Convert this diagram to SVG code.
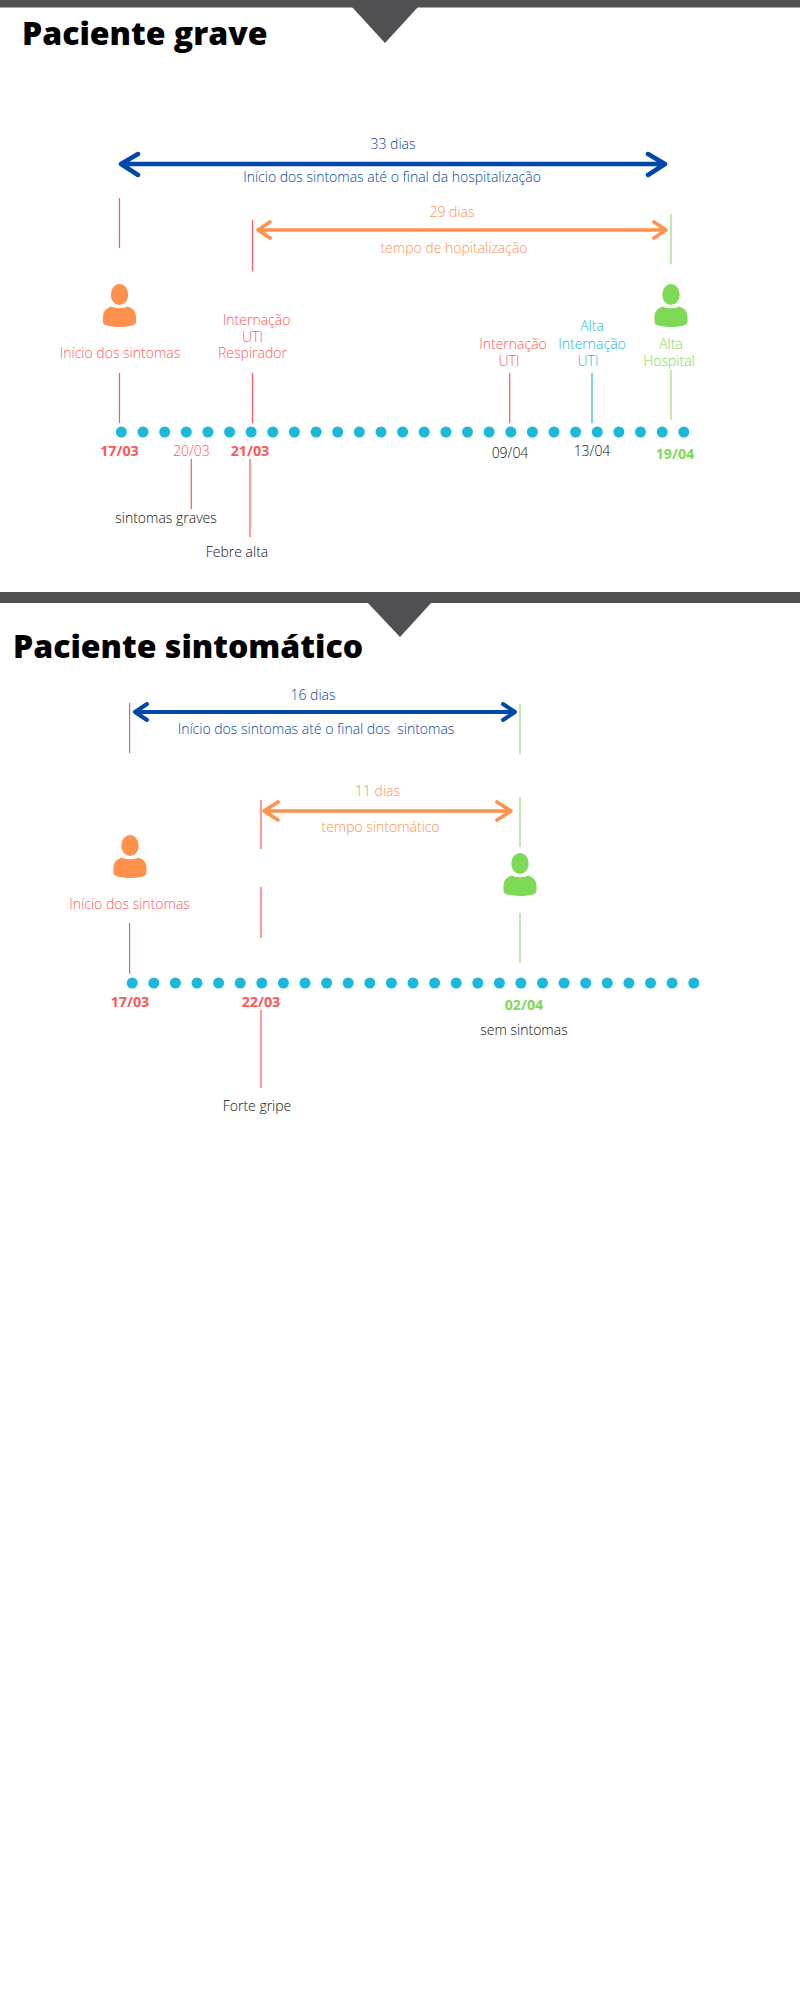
<svg xmlns="http://www.w3.org/2000/svg" xmlns:xlink="http://www.w3.org/1999/xlink" width="800" height="2000" viewBox="0 0 800 2000">
<style>
text{font-family:"Open Sans","Noto Sans","Liberation Sans",sans-serif;font-size:14px;font-weight:300;text-anchor:middle}
.title{font-size:32px;font-weight:800;text-anchor:start;fill:#000}
.bold{font-weight:700;font-size:14.3px}
.red{fill:#ff5757}.blue{fill:#0047ab}.orange{fill:#ff914d}.green{fill:#7ed957}.cyan{fill:#1cb8d9}.dark{fill:#111}
.r{stroke:#ff5757;stroke-width:1.2;fill:none}.g{stroke:#a9e58f;stroke-width:1.5;fill:none}.c{stroke:#4cc6e0;stroke-width:1.5;fill:none}
.ab{stroke:#0047ab;stroke-width:4.5;fill:none;stroke-linecap:round;stroke-linejoin:round}
.ao{stroke:#ff914d;stroke-width:3.6;fill:none;stroke-linecap:round;stroke-linejoin:round}
.bar{fill:#505052}.dot{fill:#1cb8d9}
</style>
<defs>
<g id="person"><ellipse cx="0" cy="10.5" rx="8.7" ry="10.5"/><path d="M-8 22.5C-13 24-16.5 27-16.5 33V38.5C-16.5 41.5-7 43 0 43S16.5 41.5 16.5 38.5V33C16.5 27 13 24 8 22.5C5 24.8-5 24.8-8 22.5Z"/></g>
<circle id="d" r="5.5"/>
</defs>
<rect width="800" height="2000" fill="#fff"/>
<g id="header-grave"><rect class="bar" x="0" y="0" width="800" height="7.5"/><path class="bar" d="M352 7H418L385 43Z"/><text class="title" x="22" y="45">Paciente grave</text></g>
<g id="connectors">
<path class="ab" d="M121 164H665M138 154L121 164L138 175M648 154L665 164L648 175"/>
<path class="ao" d="M258 230H666M270 222L258 230L270 238M654 222L666 230L654 238"/>
<path class="r" d="M119.5 198V248M252.5 220V271M119.5 373V423M252.5 373V423M509.7 373V423M191.3 459V509M250 459V537"/>
<path class="g" d="M671 214V264M671 370V420"/>
<path class="c" d="M592 373V423"/>
<path class="ab" style="stroke-width:4" d="M135 712H515M147 704L135 712L147 720M503 704L515 712L503 720"/>
<path class="ao" d="M264 811H511M278 802L264 811L278 820M497 802L511 811L497 820"/>
<path class="r" d="M129.6 703V753M261 800V849M129.6 923V974M261 887V938M261 1010V1088"/>
<path class="g" d="M520 704V754M520 797V847M520 913V963"/>
</g>
<g id="span-33"><text class="blue" x="393" y="149">33 dias</text><text class="blue" x="392" y="182">Início dos sintomas até o final da hospitalização</text></g>
<g id="span-29"><text class="orange" x="452" y="217">29 dias</text><text class="orange" x="454" y="253">tempo de hopitalização</text></g>
<g id="inicio-grave"><use href="#person" x="119.5" y="284" class="orange"/><text class="red" x="120" y="358">Início dos sintomas</text><text class="red bold" x="119.5" y="456">17/03</text></g>
<g id="internacao-respirador"><text class="red" x="256.6" y="325">Internação</text><text class="red" x="252.5" y="342">UTI</text><text class="red" x="252.5" y="358">Respirador</text><text class="red bold" x="250" y="456">21/03</text></g>
<g id="sintomas-graves"><text class="red" x="191.3" y="456">20/03</text><text class="dark" x="166" y="523">sintomas graves</text></g>
<g id="febre-alta"><text class="dark" x="237" y="557">Febre alta</text></g>
<g id="internacao-uti"><text class="red" x="513" y="349">Internação</text><text class="red" x="509" y="366">UTI</text><text class="dark" x="510" y="458">09/04</text></g>
<g id="alta-uti"><text class="cyan" x="592" y="331">Alta</text><text class="cyan" x="592" y="349">Internação</text><text class="cyan" x="588" y="366">UTI</text><text class="dark" x="592" y="456">13/04</text></g>
<g id="alta-hospital"><use href="#person" x="671" y="284" class="green"/><text class="green" x="671" y="349">Alta</text><text class="green" x="669" y="366">Hospital</text><text class="green bold" x="675" y="459">19/04</text></g>
<g id="timeline-grave" class="dot">
<use href="#d" x="121.4" y="432"/><use href="#d" x="143" y="432"/><use href="#d" x="164.7" y="432"/><use href="#d" x="186.3" y="432"/><use href="#d" x="207.9" y="432"/><use href="#d" x="229.6" y="432"/><use href="#d" x="251.2" y="432"/><use href="#d" x="272.8" y="432"/><use href="#d" x="294.4" y="432"/><use href="#d" x="316.1" y="432"/><use href="#d" x="337.7" y="432"/><use href="#d" x="359.3" y="432"/><use href="#d" x="381" y="432"/><use href="#d" x="402.6" y="432"/><use href="#d" x="424.2" y="432"/><use href="#d" x="445.9" y="432"/><use href="#d" x="467.5" y="432"/><use href="#d" x="489.1" y="432"/><use href="#d" x="510.8" y="432"/><use href="#d" x="532.4" y="432"/><use href="#d" x="554" y="432"/><use href="#d" x="575.6" y="432"/><use href="#d" x="597.3" y="432"/><use href="#d" x="618.9" y="432"/><use href="#d" x="640.5" y="432"/><use href="#d" x="662.2" y="432"/><use href="#d" x="683.8" y="432"/>
</g>
<g id="header-sintomatico"><rect class="bar" x="0" y="592" width="800" height="11"/><path class="bar" d="M367 602H432L400 637Z"/><text class="title" x="13" y="658">Paciente sintomático</text></g>
<g id="span-16"><text class="blue" x="313" y="700">16 dias</text><text class="blue" x="316" y="734" xml:space="preserve">Início dos sintomas até o final dos  sintomas</text></g>
<g id="span-11"><text class="orange" x="377.5" y="796">11 dias</text><text class="orange" x="380.6" y="832">tempo sintomático</text></g>
<g id="inicio-sintomatico"><use href="#person" x="130" y="835" class="orange"/><text class="red" x="129.6" y="909">Início dos sintomas</text><text class="red bold" x="130" y="1007">17/03</text></g>
<g id="forte-gripe"><text class="red bold" x="261" y="1007">22/03</text><text class="dark" x="257" y="1111">Forte gripe</text></g>
<g id="sem-sintomas"><use href="#person" x="520" y="853" class="green"/><text class="green bold" x="524" y="1010">02/04</text><text class="dark" x="524" y="1035">sem sintomas</text></g>
<g id="timeline-sintomatico" class="dot">
<use href="#d" x="132.2" y="983"/><use href="#d" x="153.8" y="983"/><use href="#d" x="175.4" y="983"/><use href="#d" x="197" y="983"/><use href="#d" x="218.6" y="983"/><use href="#d" x="240.2" y="983"/><use href="#d" x="261.8" y="983"/><use href="#d" x="283.4" y="983"/><use href="#d" x="305" y="983"/><use href="#d" x="326.6" y="983"/><use href="#d" x="348.2" y="983"/><use href="#d" x="369.8" y="983"/><use href="#d" x="391.4" y="983"/><use href="#d" x="413" y="983"/><use href="#d" x="434.6" y="983"/><use href="#d" x="456.2" y="983"/><use href="#d" x="477.8" y="983"/><use href="#d" x="499.4" y="983"/><use href="#d" x="520.9" y="983"/><use href="#d" x="542.5" y="983"/><use href="#d" x="564.1" y="983"/><use href="#d" x="585.7" y="983"/><use href="#d" x="607.3" y="983"/><use href="#d" x="628.9" y="983"/><use href="#d" x="650.5" y="983"/><use href="#d" x="672.1" y="983"/><use href="#d" x="693.8" y="983"/>
</g>
</svg>
